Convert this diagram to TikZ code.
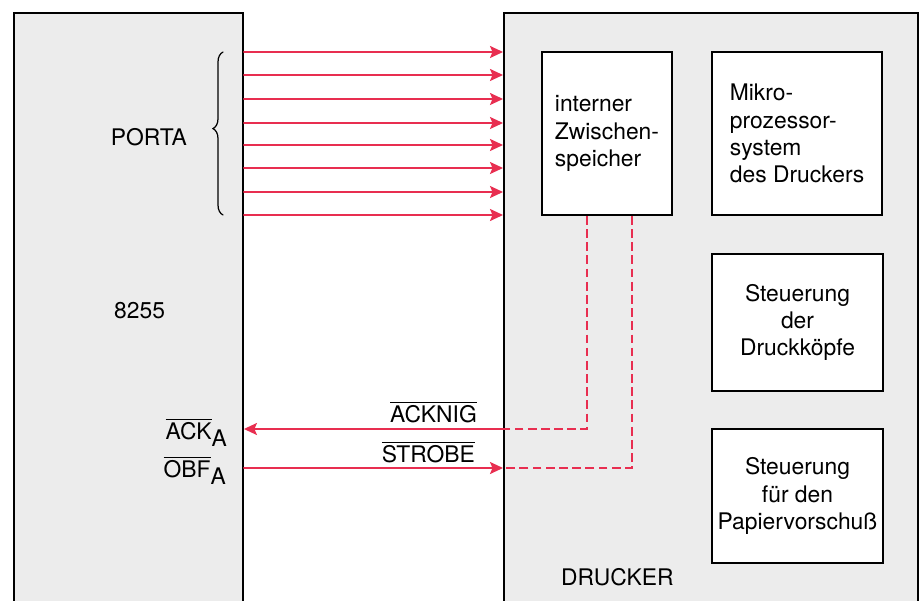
\documentclass[tikz,border=0pt]{standalone}
\usepackage{fontspec}
\setmainfont{TeX Gyre Heros}
\usetikzlibrary{arrows.meta,decorations.pathreplacing}
\definecolor{sigred}{RGB}{232,46,80}
\definecolor{boxgray}{RGB}{236,236,236}

\begin{document}
\begin{tikzpicture}[>={Stealth[length=2.6mm,width=2.4mm,inset=0.5mm]},font=\fontsize{13}{15.5}\selectfont,line cap=round,
  chip/.style={draw,line width=1.1pt,fill=boxgray,anchor=north west,inner sep=0pt,minimum height=12.5cm},
  unit/.style={draw,line width=1pt,fill=white,minimum width=#1,minimum height=3.26cm,inner sep=0pt},
  sig/.style={sigred,line width=1pt},
  sigdash/.style={sigred,line width=1pt,dash pattern=on 5pt off 2.5pt,line cap=butt}]
\useasboundingbox (0,0) rectangle (18.4,12);
\fill[white] (0,0) rectangle (18.4,12);
\node[chip,minimum width=4.58cm] (chip) at (0.26,11.76) {};
\node[chip,minimum width=8.28cm] (drucker) at (10.06,11.76) {};
\node[unit=2.6cm,align=left] (puffer) at (12.14,9.33) {interner\\Zwischen-\\speicher};
\node[unit=3.4cm,align=left] (mikro) at (15.94,9.33) {Mikro-\\prozessor-\\system\\des Druckers};
\node[unit=3.42cm,minimum height=2.74cm,align=center] (koepfe) at (15.95,5.55) {Steuerung\\der\\Druckköpfe};
\node[unit=3.42cm,minimum height=2.68cm,align=center] (vorschub) at (15.95,2.08) {Steuerung\\für den\\Papiervorschuß};
\node[anchor=base east] (porta) at (3.86,9.1) {PORTA};
\node[anchor=base west] (typ) at (2.16,5.64) {8255};
\node[anchor=base west] (druckname) at (11.1,0.3) {DRUCKER};
% Datenleitungen PORTA
\foreach \y in {10.96,10.5,10.02,9.54,9.1,8.64,8.16,7.7}
  \draw[sig,->] (chip.east |- 0,\y) -- (drucker.west |- 0,\y);
\draw[decorate,decoration={brace,amplitude=0.2cm,aspect=0.53},line width=0.7pt] (4.46,7.7) -- (4.46,10.96);
% Quittung
\coordinate (ackR) at (drucker.west |- 0,3.42);
\coordinate (stbR) at (drucker.west |- 0,2.64);
\draw[sig,->] (ackR) -- (chip.east |- ackR);
\draw[sig,->] (chip.east |- stbR) -- (stbR);
\draw[sigdash] (puffer.south -| 11.74,0) |- (ackR);
\draw[sigdash] (puffer.south -| 12.64,0) |- (stbR);
\node[anchor=base east] (acknig) at (9.66,3.56) {$\overline{\mbox{ACKNIG}}$};
\node[anchor=base east] (strobe) at (9.62,2.76) {$\overline{\mbox{STROBE}}$};
\node[anchor=base east] (ack) at (4.66,3.22) {$\overline{\mbox{ACK}}$\raisebox{-4pt}{A}};
\node[anchor=base east] (obf) at (4.64,2.46) {$\overline{\mbox{OBF}}$\raisebox{-4pt}{A}};
\end{tikzpicture}
\end{document}
